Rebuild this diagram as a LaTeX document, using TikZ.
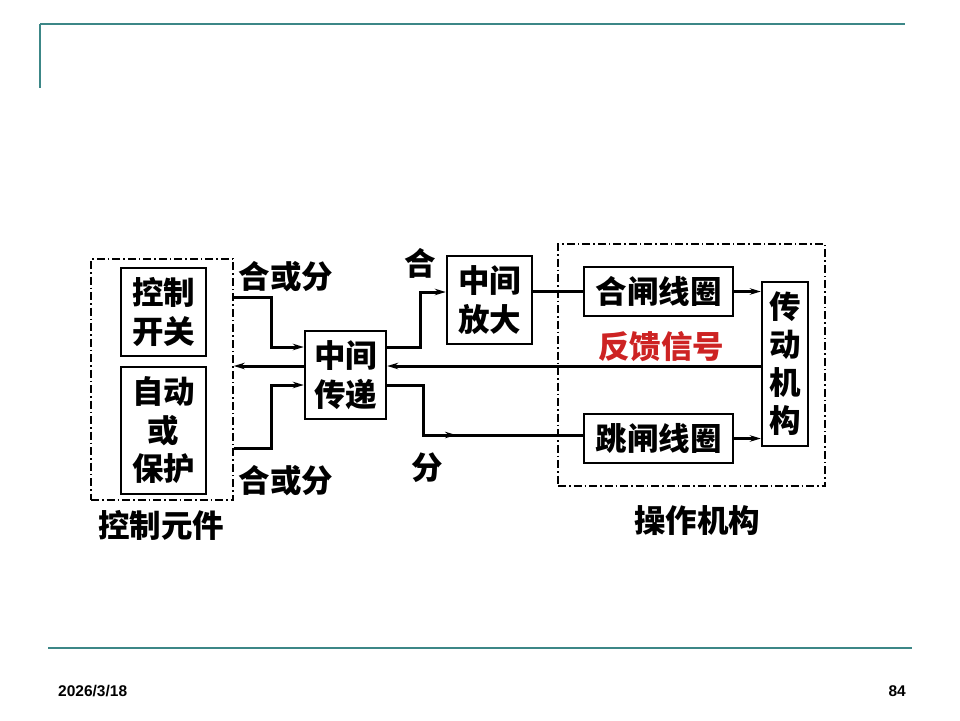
\documentclass[tikz,border=0pt]{standalone}
\usepackage{fontspec}
\setmainfont{Liberation Sans}
\newfontfamily\cjk{Noto Sans CJK SC}
\usetikzlibrary{arrows.meta}
\definecolor{teal1}{RGB}{60,135,135}
\definecolor{fbred}{RGB}{205,35,35}
\tikzset{
  box/.style={draw, line width=2.4pt, inner sep=0pt, align=center,
    font=\cjk\bfseries\fontsize{31.5}{38.5}\selectfont},
  grp/.style={draw, line width=1.4pt, dash pattern=on 8pt off 3pt on 1.5pt off 3pt, inner sep=0pt},
  lbl/.style={inner sep=0pt, font=\cjk\bfseries\fontsize{31.5}{38.5}\selectfont},
  wire/.style={line width=3pt},
  arr/.style={line width=3pt, -{Stealth[length=11pt,width=6.5pt]}},
  midarr/.style={line width=3pt, -{Stealth[length=11pt,width=6.5pt]}},
}
\begin{document}
\begin{tikzpicture}[x=1pt,y=-1pt]
\useasboundingbox (0,0) rectangle (960,720);
% header / footer rules
\draw[teal1, line width=2.5pt] (40,24) -- (905,24);
\draw[teal1, line width=1.6pt] (40,24) -- (40,88);
\draw[teal1, line width=2.5pt] (48,648) -- (912,648);
\node[anchor=west, inner sep=0pt, font=\bfseries\fontsize{15.5}{18}\selectfont] (date) at (58,691) {2026/3/18};
\node[anchor=east, inner sep=0pt, font=\bfseries\fontsize{15.5}{18}\selectfont] (page) at (906,691) {84};

% groups
\node[grp, minimum width=142pt, minimum height=241pt] (grpL) at (162,379.5) {};
\node[grp, minimum width=267pt, minimum height=242pt] (grpR) at (691.5,365) {};

% boxes
\node[box, minimum width=85pt, minimum height=88pt] (kzkg) at (163.5,312) {控制\\开关};
\node[box, minimum width=85pt, minimum height=127pt] (zdbh) at (163.5,430.5) {自动\\或\\保护};
\node[box, minimum width=81pt, minimum height=88pt] (zjcd) at (345.5,375) {中间\\传递};
\node[box, minimum width=85pt, minimum height=88pt] (zjfd) at (489.5,300) {中间\\放大};
\node[box, minimum width=149pt, minimum height=49pt] (hzxq) at (658.5,291.5) {合闸线圈};
\node[box, minimum width=149pt, minimum height=49pt] (tzxq) at (658.5,438.5) {跳闸线圈};
\node[box, minimum width=46pt, minimum height=164pt, font=\cjk\bfseries\fontsize{31.5}{38}\selectfont] (cdjg) at (785,364) {传\\动\\机\\构};

% labels
\node[lbl] (l1) at (286,277) {合或分};
\node[lbl] (l2) at (286,481) {合或分};
\node[lbl] (l3) at (420,263) {合};
\node[lbl] (l4) at (427,468) {分};
\node[lbl] (l5) at (161,525) {控制元件};
\node[lbl] (l6) at (697,521) {操作机构};
\node[lbl, text=fbred] (l7) at (661,347) {反馈信号};

% connectors
\coordinate (a1) at (271,297);
\coordinate (a2) at (271,385);
\coordinate (b1) at (420,292);
\coordinate (b2) at (423,435);
\coordinate (b3) at (456,435);
\draw[arr] (grpL.east |- a1) -- (a1) |- (zjcd.west |- 0,347);
\draw[arr] (grpL.east |- 0,448) -| (a2) -- (zjcd.west |- a2);
\draw[arr] (zjcd.west |- 0,366) -- (grpL.east |- 0,366);
\draw[arr] (zjcd.east |- 0,347) -| (b1) -- (zjfd.west |- b1);
\draw[arr] (cdjg.west |- 0,366) -- (zjcd.east |- 0,366);
\draw[wire] (zjcd.east |- 0,385) -| (b2) -- (tzxq.west |- b2);
\draw[midarr] (b2) -- (b3);
\draw[wire] (zjfd.east |- 0,291.5) -- (hzxq.west);
\draw[arr] (hzxq.east) -- (cdjg.west |- hzxq.east);
\draw[arr] (tzxq.east) -- (cdjg.west |- tzxq.east);
\end{tikzpicture}
\end{document}
